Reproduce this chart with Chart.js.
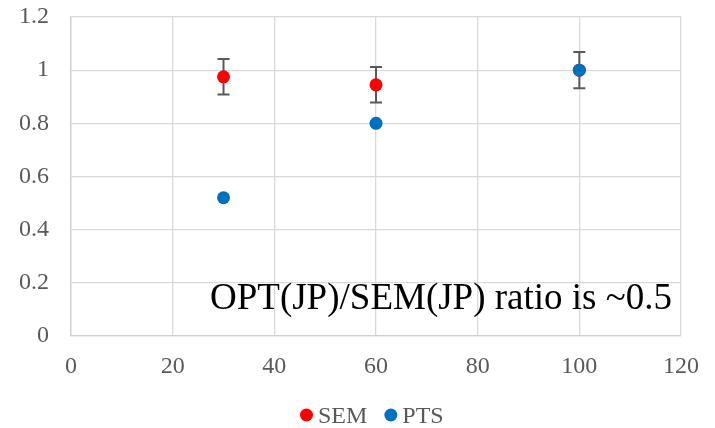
<!DOCTYPE html>
<html>
<head>
<meta charset="utf-8">
<script src="https://cdn.jsdelivr.net/npm/chart.js@4/dist/chart.umd.min.js"></script>
<style>
  html, body { margin: 0; padding: 0; background: #ffffff; }
  #wrap { width: 715px; height: 428px; position: relative; }
</style>
</head>
<body>
<div id="wrap"><canvas id="c"></canvas></div>
<script>
// Sample sizes on the x axis
const semX = [30, 60, 100];
const semY = [0.975, 0.945, 1.0];
const semErr = [0.067, 0.067, 0.068];

const ptsX = [30, 60, 100];
const ptsY = [0.52, 0.80, 1.0];

const xTicks = [0, 20, 40, 60, 80, 100, 120];
const yTicks = [0, 0.2, 0.4, 0.6, 0.8, 1.0, 1.2];

const noteText = 'OPT(JP)/SEM(JP) ratio is ~0.5';

const SERIF = '"Liberation Serif", "Times New Roman", serif';
const GREY = '#595959';

function toPoints(xs, ys) {
  return xs.map((x, i) => ({ x: x, y: ys[i] }));
}

// Vertical error bars with caps, drawn under the markers
const errorBars = {
  id: 'errorBars',
  beforeDatasetsDraw(chart) {
    const ctx = chart.ctx;
    const xs = chart.scales.x, ys = chart.scales.y;
    ctx.save();
    ctx.strokeStyle = GREY;
    ctx.lineWidth = 2;
    semX.forEach((x, i) => {
      const px = xs.getPixelForValue(x);
      const top = ys.getPixelForValue(semY[i] + semErr[i]);
      const bot = ys.getPixelForValue(semY[i] - semErr[i]);
      ctx.beginPath();
      ctx.moveTo(px, top); ctx.lineTo(px, bot);
      ctx.moveTo(px - 6, top); ctx.lineTo(px + 6, top);
      ctx.moveTo(px - 6, bot); ctx.lineTo(px + 6, bot);
      ctx.stroke();
    });
    ctx.restore();
  }
};

// Free text note inside the plot area
const note = {
  id: 'note',
  afterDatasetsDraw(chart) {
    const ctx = chart.ctx;
    const a = chart.chartArea;
    ctx.save();
    ctx.fillStyle = '#000000';
    ctx.font = '37px ' + SERIF;
    ctx.textAlign = 'left';
    ctx.textBaseline = 'alphabetic';
    ctx.fillText(noteText, a.left + 139, a.bottom - 27);
    ctx.restore();
  }
};

// Compact legend under the x axis: dot followed closely by the series name
const bottomLegend = {
  id: 'bottomLegend',
  afterDraw(chart) {
    const ctx = chart.ctx;
    const sets = chart.data.datasets;
    ctx.save();
    ctx.font = '24px ' + SERIF;
    ctx.textBaseline = 'alphabetic';
    ctx.textAlign = 'left';
    const r = 6.5, gap = 5, itemGap = 17;
    const widths = sets.map(d => 2 * r + gap + ctx.measureText(d.label).width);
    let x = 300;
    const cy = 415;
    sets.forEach((d, i) => {
      ctx.fillStyle = d.backgroundColor;
      ctx.beginPath();
      ctx.arc(x + r, cy, r, 0, Math.PI * 2);
      ctx.fill();
      ctx.fillStyle = GREY;
      ctx.fillText(d.label, x + 2 * r + gap, cy + 8);
      x += widths[i] + itemGap;
    });
    ctx.restore();
  }
};

new Chart(document.getElementById('c'), {
  type: 'scatter',
  data: {
    datasets: [
      {
        label: 'SEM',
        data: toPoints(semX, semY),
        backgroundColor: '#ff0000',
        borderColor: '#ff0000',
        pointRadius: 6.5,
        pointHoverRadius: 6.5,
        borderWidth: 0,
        order: 2
      },
      {
        label: 'PTS',
        data: toPoints(ptsX, ptsY),
        backgroundColor: '#0070c0',
        borderColor: '#0070c0',
        pointRadius: 6.5,
        pointHoverRadius: 6.5,
        borderWidth: 0,
        order: 1
      }
    ]
  },
  options: {
    responsive: true,
    maintainAspectRatio: false,
    animation: false,
    devicePixelRatio: 1,
    layout: { padding: { left: 0, right: 31, top: 17, bottom: 0 } },
    scales: {
      x: {
        type: 'linear',
        min: 0, max: 120,
        afterBuildTicks: (s) => { s.ticks = xTicks.map(v => ({ value: v })); },
        afterFit: (s) => { s.height = 92; },
        grid: { color: '#d9d9d9', lineWidth: 1.3, drawTicks: false },
        border: { color: '#d0d0d0', width: 1.3 },
        ticks: {
          padding: 16,
          color: GREY,
          font: { family: SERIF, size: 24 }
        }
      },
      y: {
        type: 'linear',
        min: 0, max: 1.2,
        afterBuildTicks: (s) => { s.ticks = yTicks.map(v => ({ value: v })); },
        afterFit: (s) => { s.width = 71; s.paddingTop = 8; s.paddingBottom = 8; },
        grid: { color: '#d9d9d9', lineWidth: 1.3, drawTicks: false },
        border: { color: '#d0d0d0', width: 1.3 },
        ticks: {
          padding: 22,
          color: GREY,
          font: { family: SERIF, size: 24 },
          callback: (v) => String(Math.round(v * 10) / 10)
        }
      }
    },
    plugins: {
      legend: { display: false },
      tooltip: { enabled: false }
    }
  },
  plugins: [errorBars, note, bottomLegend]
});
</script>
</body>
</html>
